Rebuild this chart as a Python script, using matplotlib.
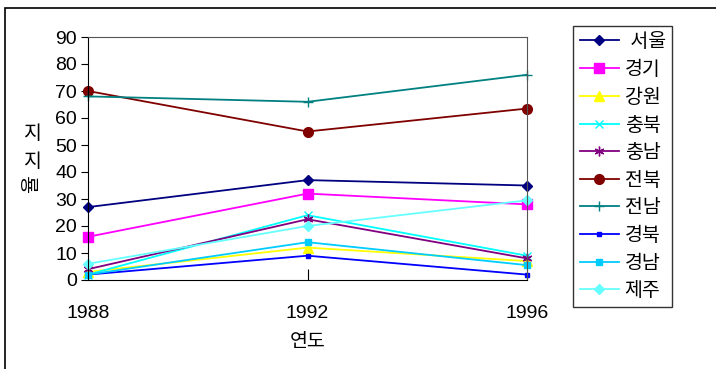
import matplotlib
matplotlib.use("Agg")
import matplotlib.pyplot as plt
from matplotlib.patches import Rectangle

plt.rcParams["font.family"] = ["Liberation Sans", "Noto Sans CJK KR", "DejaVu Sans"]

years = [1988, 1992, 1996]
regions = [" 서울", "경기", "강원", "충북", "충남", "전북", "전남", "경북", "경남", "제주"]

seoul = [27, 37, 35]
gyeonggi = [16, 32, 28]
gangwon = [3, 12, 7]
chungbuk = [2, 24, 9]
chungnam = [4, 22.5, 8]
jeonbuk = [70, 55, 63.5]
jeonnam = [68, 66, 76]
gyeongbuk = [2, 9, 2]
gyeongnam = [2, 14, 5.5]
jeju = [6, 20, 29.5]

series = [seoul, gyeonggi, gangwon, chungbuk, chungnam,
          jeonbuk, jeonnam, gyeongbuk, gyeongnam, jeju]

styles = [
    ("#000080", "D", 5),
    ("#FF00FF", "s", 6.5),
    ("#FFFF00", "^", 7),
    ("#00FFFF", "x", 6),
    ("#800080", (6, 2, 0), 7),
    ("#800000", "o", 7),
    ("#008080", "+", 7),
    ("#0000FF", "s", 3.5),
    ("#00CCFF", "s", 4.5),
    ("#66FFFF", "D", 5),
]

fig = plt.figure(figsize=(7.16, 3.69), dpi=100)
ax = fig.add_axes([88 / 716, 1 - 280 / 369, (527 - 88) / 716, (280 - 37) / 369])

for name, vals, (col, mk, ms) in zip(regions, series, styles):
    ax.plot(years, vals, color=col, lw=1.3, marker=mk, ms=ms,
            markeredgecolor=col, markerfacecolor=col, label=name,
            clip_on=False)

ax.set_xlim(1988, 1996)
ax.set_ylim(0, 90)
ax.set_xticks(years)
ax.set_yticks(range(0, 91, 10))
ax.tick_params(axis="y", direction="out", length=5, labelsize=14, pad=3)
ax.tick_params(axis="x", direction="in", length=8, labelsize=14, pad=18)
for s in ["top", "right"]:
    ax.spines[s].set_color("#555555")
ax.spines["left"].set_color("black")
ax.spines["bottom"].set_color("black")

ax.set_xlabel("연도", fontsize=14, labelpad=9)
fig.text(33 / 716, 1 - 148 / 369, "지\n지", fontsize=14, ha="center", va="center",
         linespacing=1.75)
fig.text(33 / 716, 1 - 184 / 369, "율", fontsize=14, ha="center", va="center",
         rotation=90)

leg = ax.legend(loc="upper left", bbox_to_anchor=(573 / 716, 1 - 26 / 369),
                bbox_transform=fig.transFigure, borderaxespad=0, fontsize=14,
                frameon=True, fancybox=False, handlelength=2.0, labelspacing=0.5,
                handletextpad=0.3, borderpad=0.35)
leg.get_frame().set_edgecolor("black")
leg.get_frame().set_linewidth(1.0)

fig.patches.append(Rectangle((5 / 716, -0.1), 1.2, 1 - 8 / 369 + 0.1,
                             transform=fig.transFigure, fill=False,
                             edgecolor="black", lw=1.2))

fig.savefig("out.png", dpi=100)
